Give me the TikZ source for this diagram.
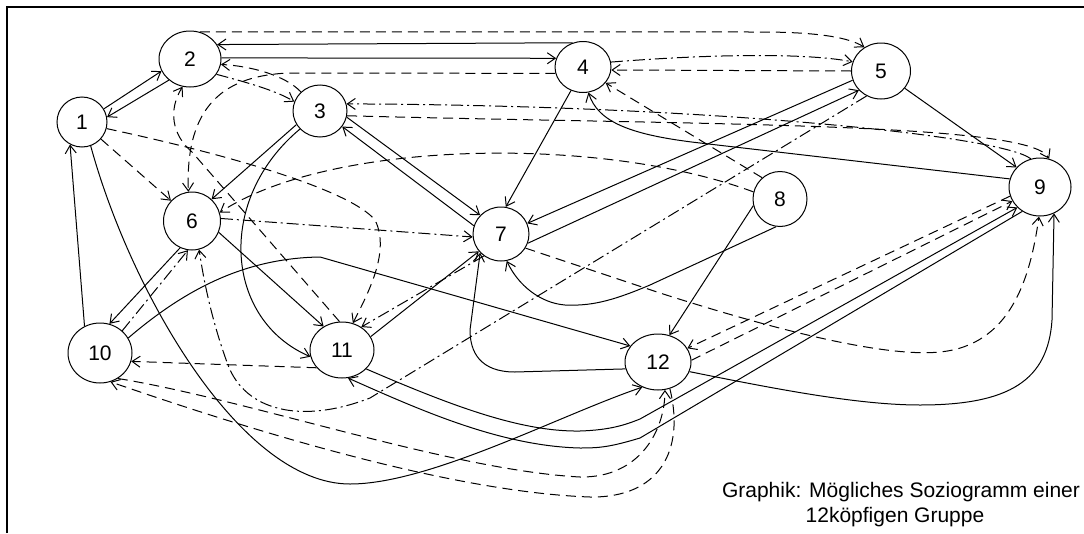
\documentclass[tikz,border=0pt]{standalone}
\usepackage{fontspec}
\setmainfont{Liberation Sans}
\usetikzlibrary{arrows.meta,shapes.geometric}
\begin{document}
\begin{tikzpicture}[x=1pt,y=-1pt,
  nd/.style={draw, ellipse, inner sep=0pt, line width=1pt, minimum width=58pt, minimum height=55pt, font=\fontsize{21}{21}\selectfont},
  e/.style={line width=1pt, -{Straight Barb[length=8pt,width=11pt]}},
  ds/.style={e, dash pattern=on 10pt off 6pt},
  dd/.style={e, dash pattern=on 12pt off 4pt on 2pt off 4pt},
  captext/.style={font=\fontsize{21}{24}\selectfont, anchor=base}]
\useasboundingbox (0,0) rectangle (1084,533);
\draw[line width=2pt] (7,533) -- (7,7) -- (1084,7);

% nodes
\node[nd, minimum width=50pt, minimum height=50pt] (n1) at (82,122) {1};
\node[nd, minimum width=62pt, minimum height=56pt] (n2) at (190,59) {2};
\node[nd, minimum width=54pt, minimum height=52pt] (n3) at (320,111) {3};
\node[nd, minimum width=56pt, minimum height=51pt] (n4) at (583,67) {4};
\node[nd, minimum width=59pt, minimum height=56pt] (n5) at (881,71) {5};
\node[nd, minimum width=57pt, minimum height=58pt] (n6) at (192,221) {6};
\node[nd, minimum width=56pt, minimum height=54pt] (n7) at (501,234) {7};
\node[nd, minimum width=54pt, minimum height=55pt] (n8) at (780,199) {8};
\node[nd, minimum width=62pt, minimum height=58pt] (n9) at (1040,187) {9};
\node[nd, minimum width=64pt, minimum height=60pt] (n10) at (100,353) {10};
\node[nd, minimum width=64pt, minimum height=56pt] (n11) at (342,350) {11};
\node[nd, minimum width=66pt, minimum height=56pt] (n12) at (658,362) {12};

% solid connectors
\draw[e] (n1.31) -- (n2.203);
\draw[e] (n2.225) -- (n1.11);
\draw[e] (n4.113) -- (n2.28);
\draw[e] (n2.2) -- (n4.162);
\draw[e] (n5.324) -- (n9.140);
\draw[e] (n4.243) -- (n7.80);
\draw[e] (n9.165) -- (700,143) .. controls (630,135) and (598,122) .. (n4.282);
\draw[e] (n3.347) -- (n7.138);
\draw[e] (n7.163) -- (n3.325);
\draw[e] (n5.198) -- (n7.22);
\draw[e] (n7.341) -- (n5.221);
\draw[e] (n8.262) -- (650,285) .. controls (610,302) and (590,306) .. (565,305) .. controls (540,303) and (518,285) .. (n7.282);
\draw[e] (n8.194) -- (n12.67);
\draw[e] (n12.192) -- (515,372) .. controls (480,372) and (470,352) .. (470,330) -- (n7.222);
\draw[e] (n10.28) .. controls (190,285) and (250,258) .. (320,257) -- (n12.150);
\draw[e] (n6.246) -- (n10.72);
\draw[e] (n10.120) -- (n1.242);
\draw[e] (n1.290) .. controls (130,290) and (240,484) .. (350,484) .. controls (430,484) and (560,415) .. (n12.238);
\draw[e] (n3.210) -- (n6.48);
\draw[e] (n3.222) .. controls (215,200) and (225,320) .. (n11.192);
\draw[e] (n6.337) -- (n11.128);
\draw[e] (n11.25) -- (n7.218);
\draw[e] (n12.343) .. controls (780,390) and (860,405) .. (920,405) .. controls (1010,405) and (1048,380) .. (1052,320) -- (n9.298);
\draw[e] (n11.322) .. controls (450,405) and (520,432) .. (580,431) .. controls (610,430) and (625,425) .. (640,419) -- (n9.222);
\draw[e] (n9.234) -- (640,438) .. controls (610,447) and (600,448) .. (580,448) .. controls (500,446) and (420,410) .. (n11.282);

% dashed connectors
\draw[ds] (n2.70) -- (760,32) .. controls (820,32) and (850,38) .. (n5.125);
\draw[dd] (n4.10) .. controls (700,55) and (800,52) .. (n5.162);
\draw[ds] (n5.180) -- (n4.354);
\draw[ds] (n3.350) .. controls (700,125) and (1030,122) .. (n9.72);
\draw[dd] (n9.108) .. controls (1000,135) and (700,105) .. (n3.15);
\draw[dd] (n7.232) -- (n11.50);
\draw[dd] (n6.5) -- (n7.186);
\draw[ds] (n1.318) -- (n6.136);
\draw[ds] (n1.345) .. controls (230,155) and (350,190) .. (375,220) .. controls (390,250) and (370,290) .. (n11.68);
\draw[ds] (n4.193) -- (290,73) .. controls (225,75) and (185,105) .. (n6.97);
\draw[ds] (n11.95) -- (192,152) .. controls (172,135) and (168,110) .. (n2.255);
\draw[ds] (n8.165) .. controls (600,135) and (330,140) .. (n6.17);
\draw[dd] (n5.240) -- (370,398) .. controls (300,425) and (245,410) .. (228,365) .. controls (215,330) and (205,290) .. (n6.284);
\draw[dd] (n10.45) -- (n6.262);
\draw[ds] (n11.215) -- (n10.345);
\draw[ds] (n10.305) .. controls (250,400) and (450,470) .. (580,477) .. controls (640,478) and (665,430) .. (n12.284);
\draw[ds] (n12.294) .. controls (685,450) and (660,498) .. (590,497) .. controls (450,492) and (250,430) .. (n10.290);
\draw[ds] (n7.330) -- (660,293) .. controls (760,325) and (880,358) .. (940,352) .. controls (1010,345) and (1030,280) .. (n9.268);
\draw[ds] (n9.197) -- (n12.25);
\draw[ds] (n12.3) -- (n9.207);
\draw[ds] (n8.130) -- (n4.325);
\draw[dd] (n2.330) .. controls (245,82) and (275,90) .. (n3.160);
\draw[ds] (n3.135) .. controls (285,75) and (250,66) .. (n2.350);

% caption
\node[captext] (c1) at (901,497) {Graphik: Mögliches Soziogramm einer};
\node[captext] (c2) at (895,522) {12köpfigen Gruppe};
\end{tikzpicture}
\end{document}
